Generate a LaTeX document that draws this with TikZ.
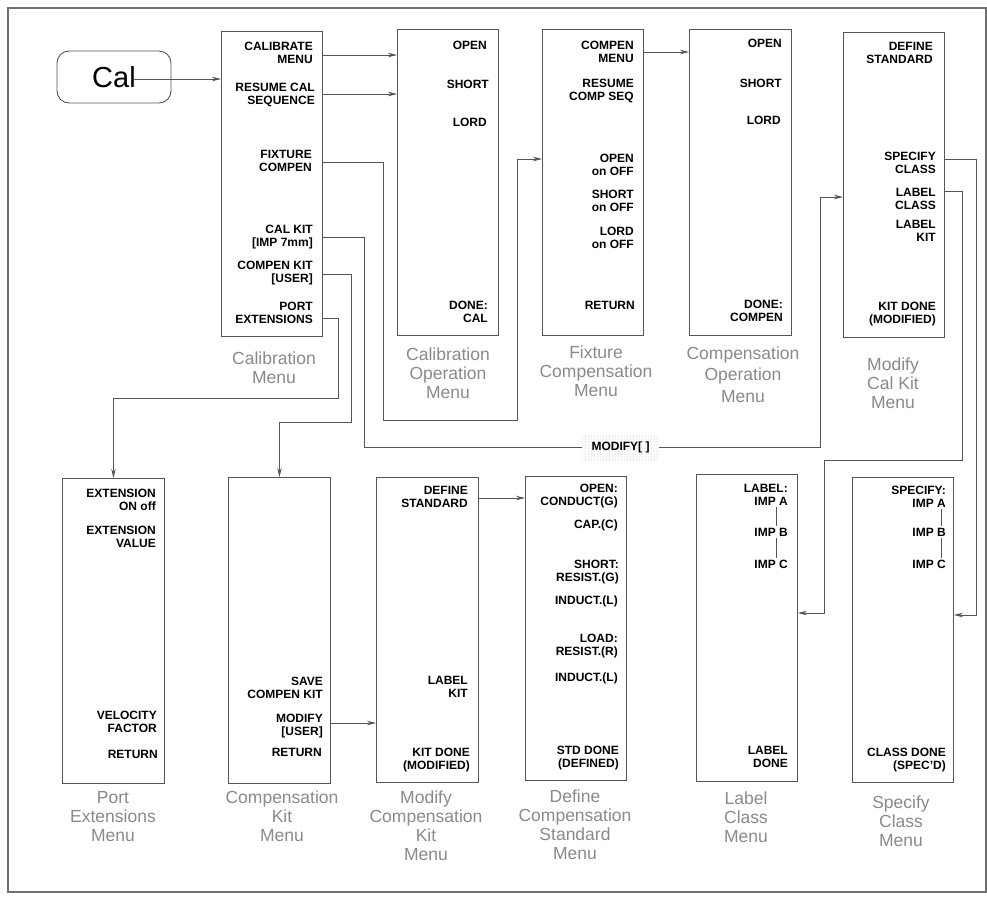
\documentclass[tikz,border=0pt]{standalone}
\usepackage{fontspec}
\setmainfont{Liberation Sans}
\usetikzlibrary{arrows.meta,patterns}
\definecolor{ln}{HTML}{555555}
\definecolor{capc}{HTML}{8A8A8A}
\definecolor{frm}{HTML}{707070}
\tikzset{
 menubox/.style={draw=ln, line width=0.9pt, anchor=north west, inner sep=0pt},
 lab/.style={font=\bfseries\fontsize{12}{13}\selectfont, align=right, anchor=north east, inner sep=0pt},
 captn/.style={font=\fontsize{17.5}{19}\selectfont, text=capc, align=center, anchor=north, inner sep=0pt},
 conn/.style={draw=ln, line width=0.8pt},
 arr/.style={conn, -{Stealth[length=9pt,width=4.5pt]}},
 bar/.style={draw=ln, line width=0.7pt, shorten <=2pt, shorten >=2pt},
}
\newcommand\lbl[4]{\node[lab] (#1) at (#2,#3-4.3) {#4};}
\newcommand\mcap[4]{\node[captn] (#1) at (#2,#3-6.5) {#4};}
\begin{document}
\begin{tikzpicture}[x=1pt,y=-1pt]
\useasboundingbox[fill=white] (0,0) rectangle (987,898);
\draw[frm, line width=1.2pt] (8,8) rectangle (986,892);

% Cal key
\node[draw=ln, line width=0.9pt, rounded corners=12pt, minimum width=114pt, minimum height=52pt, inner sep=0pt, font=\fontsize{29}{30}\selectfont] (cal) at (114,77) {Cal};
\coordinate (calstart) at (133,79);

% boxes
\node[menubox, minimum width=101pt, minimum height=305pt] (calm) at (221,31) {};
\node[menubox, minimum width=101pt, minimum height=306pt] (cop) at (397,29) {};
\node[menubox, minimum width=101pt, minimum height=306pt] (fcm) at (542,29) {};
\node[menubox, minimum width=102pt, minimum height=306pt] (coo) at (689,29) {};
\node[menubox, minimum width=101pt, minimum height=305pt] (mck) at (843,32) {};
\node[menubox, minimum width=102pt, minimum height=305pt] (pem) at (62,478) {};
\node[menubox, minimum width=102pt, minimum height=306pt] (ckm) at (228,477) {};
\node[menubox, minimum width=102pt, minimum height=305pt] (mcm) at (376,477) {};
\node[menubox, minimum width=101pt, minimum height=304pt] (dcs) at (525,476) {};
\node[menubox, minimum width=101pt, minimum height=307pt] (lcm) at (696,474) {};
\node[menubox, minimum width=101pt, minimum height=305pt] (scm) at (852,477) {};

% Calibration Menu labels
\lbl{a1}{313}{46}{CALIBRATE\\MENU}
\lbl{a2}{315}{87}{RESUME CAL\\SEQUENCE}
\lbl{a3}{312}{154}{FIXTURE\\COMPEN}
\lbl{a4}{313}{229}{CAL KIT\\{[IMP 7mm]}}
\lbl{a5}{313}{265}{COMPEN KIT\\{[USER]}}
\lbl{a6}{313}{306}{PORT\\EXTENSIONS}
\mcap{ac}{274}{358}{Calibration\\Menu}

% Calibration Operation Menu
\lbl{b1}{487}{45}{OPEN}
\lbl{b2}{489}{84}{SHORT}
\lbl{b3}{487}{122}{LORD}
\lbl{b4}{488}{305}{DONE:\\CAL}
\mcap{bc}{448}{354}{Calibration\\Operation\\Menu}

% Fixture Compensation Menu
\lbl{c1}{634}{45}{COMPEN\\MENU}
\lbl{c2}{634}{83}{RESUME\\COMP SEQ}
\lbl{c3}{634}{158}{OPEN\\on OFF}
\lbl{c4}{634}{194}{SHORT\\on OFF}
\lbl{c5}{634}{231}{LORD\\on OFF}
\lbl{c6}{635}{305}{RETURN}
\mcap{cc}{596}{352}{Fixture\\Compensation\\Menu}

% Compensation Operation Menu
\lbl{d1}{782}{43}{OPEN}
\lbl{d2}{782}{83}{SHORT}
\lbl{d3}{781}{120}{LORD}
\lbl{d4}{783}{304}{DONE:\\COMPEN}
\node[captn, font=\fontsize{17.5}{21.5}\selectfont] (dc) at (743,353-6.5) {Compensation\\Operation\\Menu};

% Modify Cal Kit Menu
\lbl{e1}{933}{46}{DEFINE\\STANDARD}
\lbl{e2}{936}{156}{SPECIFY\\CLASS}
\lbl{e3}{936}{192}{LABEL\\CLASS}
\lbl{e4}{936}{224}{LABEL\\KIT}
\lbl{e5}{936}{306}{KIT DONE\\(MODIFIED)}
\mcap{ec}{893}{364}{Modify\\Cal Kit\\Menu}

% Port Extensions Menu
\lbl{f1}{156}{493}{EXTENSION\\ON off}
\lbl{f2}{156}{530}{EXTENSION\\VALUE}
\lbl{f3}{157}{715}{VELOCITY\\FACTOR}
\lbl{f4}{158}{754}{RETURN}
\mcap{fc}{113}{798}{Port\\Extensions\\Menu}

% Compensation Kit Menu
\lbl{g1}{323}{681}{SAVE\\COMPEN KIT}
\lbl{g2}{323}{718}{MODIFY\\{[USER]}}
\lbl{g3}{322}{752}{RETURN}
\mcap{gc}{282}{797}{Compensation\\Kit\\Menu}

% Modify Compensation Kit Menu
\lbl{h1}{468}{490}{DEFINE\\STANDARD}
\lbl{h2}{468}{680}{LABEL\\KIT}
\lbl{h3}{470}{752}{KIT DONE\\(MODIFIED)}
\mcap{hc}{426}{797}{Modify\\Compensation\\Kit\\Menu}

% Define Compensation Standard Menu
\lbl{i1}{618}{488}{OPEN:\\CONDUCT(G)}
\lbl{i2}{618}{524}{CAP.(C)}
\lbl{i3}{619}{564}{SHORT:\\RESIST.(G)}
\lbl{i4}{618}{600}{INDUCT.(L)}
\lbl{i5}{618}{638}{LOAD:\\RESIST.(R)}
\lbl{i6}{618}{677}{INDUCT.(L)}
\lbl{i7}{619}{750}{STD DONE\\(DEFINED)}
\mcap{ic}{575}{796}{Define\\Compensation\\Standard\\Menu}

% Label Class Menu
\lbl{j1}{788}{488}{LABEL:\\IMP A}
\lbl{j2}{788}{532}{IMP B}
\lbl{j3}{788}{564}{IMP C}
\lbl{j4}{788}{750}{LABEL\\DONE}
\draw[bar] (j1.south -| 776,0) -- (j2.north -| 776,0);
\draw[bar] (j2.south -| 776,0) -- (j3.north -| 776,0);
\mcap{jc}{746}{798}{Label\\Class\\Menu}

% Specify Class Menu
\lbl{k1}{946}{490}{SPECIFY:\\IMP A}
\lbl{k2}{946}{532}{IMP B}
\lbl{k3}{946}{564}{IMP C}
\lbl{k4}{946}{752}{CLASS DONE\\(SPEC'D)}
\draw[bar] (k1.south -| 941,0) -- (k2.north -| 941,0);
\draw[bar] (k2.south -| 941,0) -- (k3.north -| 941,0);
\mcap{kc}{901}{802}{Specify\\Class\\Menu}

% connectors
\draw[arr] (calstart) -- (calm.west |- calstart);
\draw[arr] (calm.east |- 0,55) -- (cop.west |- 0,55);
\draw[arr] (calm.east |- 0,94) -- (cop.west |- 0,94);
\draw[arr] (calm.east |- 0,162) -| (383,420) -| (517,159) -- (fcm.west |- 0,159);
\draw[arr] (calm.east |- 0,237) -| (364,447) -| (820,197) -- (mck.west |- 0,197);
\draw[arr] (calm.east |- 0,274) -| (351,422) -| (ckm.north);
\draw[arr] (calm.east |- 0,318) -| (338,398) -| (pem.north);
\draw[arr] (fcm.east |- 0,52) -- (coo.west |- 0,52);
\draw[arr] (mck.east |- 0,159) -| (976,615) -- (scm.east |- 0,615);
\draw[arr] (mck.east |- 0,191) -| (962,460) -| (824,613) -- (lcm.east |- 0,613);
\draw[arr] (ckm.east |- 0,723) -- (mcm.west |- 0,723);
\draw[arr] (mcm.east |- 0,498) -- (dcs.west |- 0,498);

% MODIFY[ ] softkey label on the line
\node[preaction={fill=white}, pattern=dots, pattern color=gray!75, minimum width=77pt, minimum height=26pt, inner sep=0pt, font=\bfseries\fontsize{12}{13}\selectfont] (modk) at (620.5,447) {MODIFY[ ]};
\end{tikzpicture}
\end{document}
